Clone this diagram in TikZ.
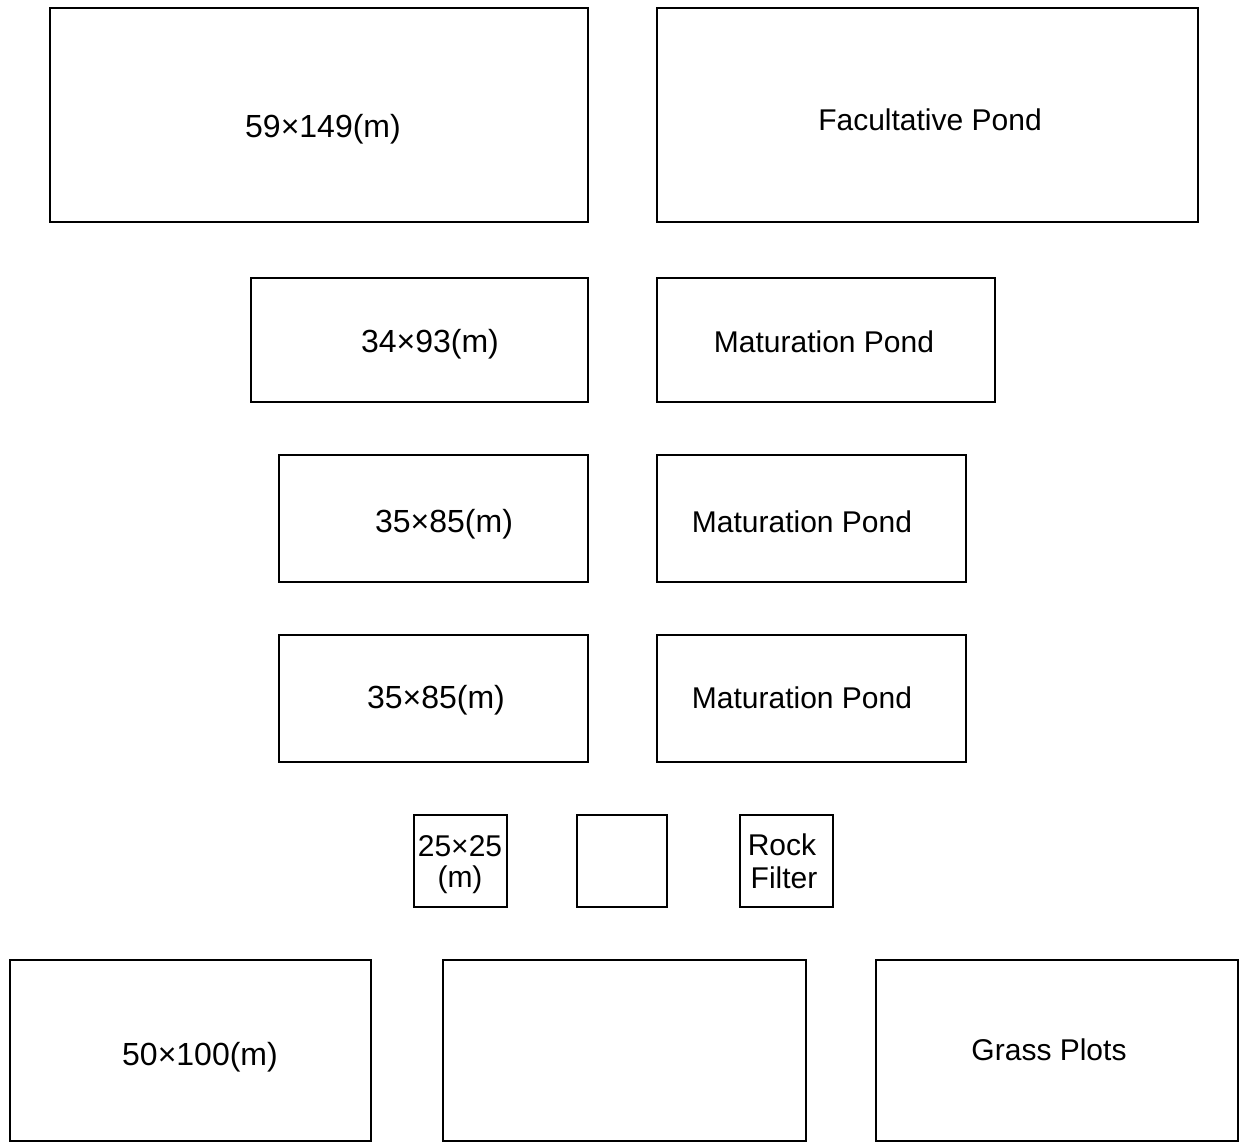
\documentclass[tikz,border=0pt]{standalone}
\usepackage{fontspec}
\setmainfont{Liberation Sans}
\begin{document}
\begin{tikzpicture}[x=1pt,y=-1pt,
  pond/.style={draw=black,line width=2.6pt,inner sep=0pt,outer sep=0pt,anchor=north west},
  lbl/.style={font=\fontsize{30}{34}\selectfont,inner sep=0pt,text=black},
  num/.style={font=\fontsize{32}{36}\selectfont,inner sep=0pt,text=black}]
\useasboundingbox[fill=white] (0,0) rectangle (1240,1144);
% row 1
\node[pond,minimum width=538pt,minimum height=214pt] (b1) at (50,8) {};
\node[pond,minimum width=541pt,minimum height=214pt] (b2) at (657,8) {};
% row 2
\node[pond,minimum width=337pt,minimum height=124pt] (b3) at (251,278) {};
\node[pond,minimum width=338pt,minimum height=124pt] (b4) at (657,278) {};
% row 3
\node[pond,minimum width=309pt,minimum height=127pt] (b5) at (279,455) {};
\node[pond,minimum width=309pt,minimum height=127pt] (b6) at (657,455) {};
% row 4
\node[pond,minimum width=309pt,minimum height=127pt] (b7) at (279,635) {};
\node[pond,minimum width=309pt,minimum height=127pt] (b8) at (657,635) {};
% row 5
\node[pond,minimum width=93pt,minimum height=92pt] (b9) at (414,815) {};
\node[pond,minimum width=90pt,minimum height=92pt] (b10) at (577,815) {};
\node[pond,minimum width=93pt,minimum height=92pt] (b11) at (740,815) {};
% row 6
\node[pond,minimum width=361pt,minimum height=181pt] (b12) at (10,960) {};
\node[pond,minimum width=363pt,minimum height=181pt] (b13) at (443,960) {};
\node[pond,minimum width=362pt,minimum height=181pt] (b14) at (876,960) {};
% labels
\node[num] (t1) at (323,129) {59×149(m)};
\node[lbl] (t2) at (930,120) {Facultative Pond};
\node[num] (t3) at (430,344) {34×93(m)};
\node[lbl] (t4) at (824,342) {Maturation Pond};
\node[num] (t5) at (444,524) {35×85(m)};
\node[lbl] (t6) at (802,522) {Maturation Pond};
\node[num] (t7) at (436,700) {35×85(m)};
\node[lbl] (t8) at (802,698) {Maturation Pond};
\node[lbl] (t9a) at (460,846) {25×25};
\node[lbl] (t9b) at (460,880) {(m)};
\node[lbl] (t11a) at (782,845) {Rock};
\node[lbl] (t11b) at (784,878) {Filter};
\node[num] (t12) at (200,1057) {50×100(m)};
\node[lbl] (t14) at (1049,1050) {Grass Plots};
\end{tikzpicture}
\end{document}
